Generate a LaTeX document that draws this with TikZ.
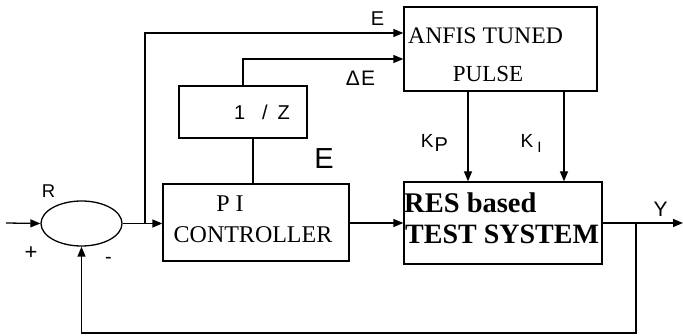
\documentclass[tikz,border=0pt]{standalone}
\usepackage{fontspec}
\setmainfont{Liberation Serif}
\setsansfont{Liberation Sans}
\usetikzlibrary{arrows.meta,shapes.geometric}
\begin{document}
\begin{tikzpicture}[x=1pt,y=-1pt,
  blk/.style={draw,line width=1.3pt,inner sep=0pt,minimum width=#1},
  ln/.style={line width=1.3pt},
  arr/.style={line width=1.3pt,-{Triangle[length=10pt,width=8pt]}},
  lab/.style={font=\sffamily,inner sep=0pt},
  btxt/.style={font=\rmfamily,inner sep=0pt}]
\useasboundingbox (0,0) rectangle (683,336);
% blocks
\node[blk=193pt,minimum height=84pt] (anfis) at (500.5,49) {};
\node[blk=128pt,minimum height=52pt] (z) at (243,112) {};
\node[blk=186pt,minimum height=77pt] (pi) at (256,222.5) {};
\node[blk=198pt,minimum height=82pt] (res) at (503,223) {};
\node[draw,ellipse,line width=1.3pt,minimum width=81pt,minimum height=45pt,inner sep=0pt] (sum) at (81.5,223.5) {};
% block texts
\node[btxt,font=\fontsize{23.7}{23.7}\selectfont,anchor=west] (t1) at (408,36) {ANFIS TUNED};
\node[btxt,font=\fontsize{23}{23}\selectfont] (t2) at (488,74) {PULSE};
\node[lab,font=\sffamily\fontsize{20}{20}\selectfont] (t3) at (262,112) {1\hspace{17pt}/\hspace{10pt}Z};
\node[btxt,font=\fontsize{24}{24}\selectfont] (t4) at (230,204) {P I};
\node[btxt,font=\fontsize{24}{24}\selectfont] (t5) at (253,235) {CONTROLLER};
\node[btxt,font=\bfseries\fontsize{28.5}{28.5}\selectfont,anchor=west] (t6) at (404,203) {RES based};
\node[btxt,font=\bfseries\fontsize{28}{28}\selectfont,anchor=west] (t7) at (405,234) {TEST SYSTEM};
% labels
\node[lab,font=\sffamily\fontsize{20}{20}\selectfont] (le1) at (377.5,19) {E};
\node[lab,font=\sffamily\fontsize{21}{21}\selectfont] (lde) at (360.5,78) {Δ\hspace{1pt}E};
\node[lab,font=\sffamily\fontsize{29}{29}\selectfont] (le2) at (324,158.5) {E};
\node[lab,font=\sffamily\fontsize{18.5}{18.5}\selectfont] (lr) at (48.5,191.5) {R};
\node[lab,font=\sffamily\fontsize{22}{22}\selectfont] (lp) at (31,253.5) {+};
\node[lab,font=\sffamily\fontsize{20}{20}\selectfont] (lm) at (108.5,260.5) {-};
\node[lab,font=\sffamily\fontsize{19}{19}\selectfont] (lkp) at (434.5,142.5) {K\hspace{1pt}\raisebox{-4pt}{\fontsize{20}{20}\selectfont P}};
\node[lab,font=\sffamily\fontsize{19}{19}\selectfont] (lki) at (531,143) {K\hspace{4pt}\raisebox{-5pt}{\fontsize{15}{15}\selectfont I}};
\node[lab,font=\sffamily\fontsize{21}{21}\selectfont] (ly) at (660.5,209) {Y};
% connectors
\coordinate (in) at (6,223);
\coordinate (b1) at (145,223);
\coordinate (out) at (683,223);
\coordinate (b2) at (636,223);
\coordinate (fb) at (636,333);
\draw[arr] (in) -- (sum.west);
\draw[arr] (sum.east) -- (pi.west |- sum.east);
\draw[arr] (b1) |- ([yshift=16pt]anfis.west);
\draw[arr] (z.north) |- ([yshift=-10pt]anfis.west);
\draw[ln] ([xshift=10pt]z.south) -- ([xshift=10pt]z.south |- pi.north);
\draw[arr] (pi.east |- res.west) -- (res.west);
\draw[arr] (res.east) -- (out);
\draw[arr] (b2) -- (fb) -| (sum.south);
\draw[arr] ([xshift=-32.5pt]anfis.south) -- ([xshift=-32.5pt]anfis.south |- res.north);
\draw[arr] ([xshift=63.5pt]anfis.south) -- ([xshift=63.5pt]anfis.south |- res.north);
\end{tikzpicture}
\end{document}
